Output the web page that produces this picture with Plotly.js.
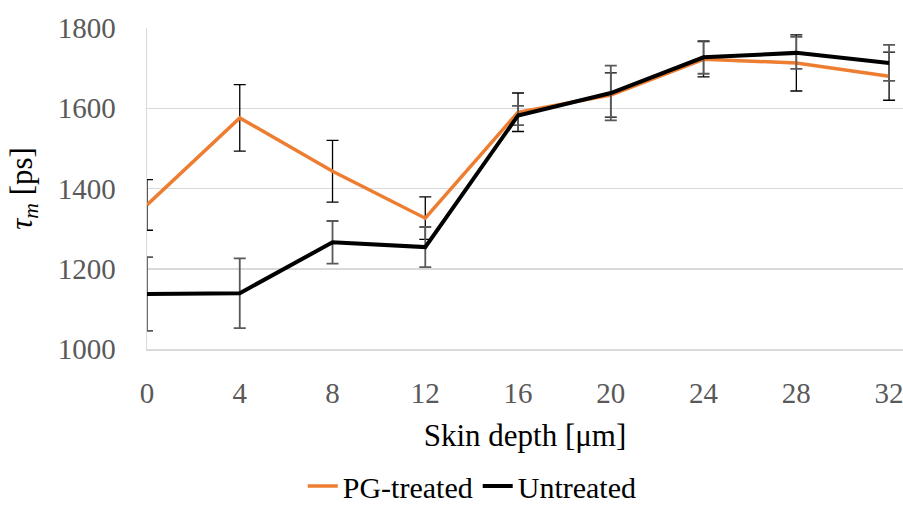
<!DOCTYPE html>
<html><head><meta charset="utf-8">
<script src="https://cdn.plot.ly/plotly-3.0.1.min.js"></script>
<style>html,body{margin:0;padding:0;background:#fff}#c{width:903px;height:512px}</style>
</head><body><div id="c"></div>
<script>
const depth = [0, 4, 8, 12, 16, 20, 24, 28, 32];
const pgTreated = [1359, 1576, 1443, 1326, 1590, 1633, 1722, 1713, 1680];
const pgError = [63, 83, 77, 53, 48, 55, 44, 70, 60];
const untreated = [1137, 1139, 1266, 1254, 1582, 1638, 1727, 1738, 1713];
const untreatedError = [92, 87, 53, 50, 24, 68, 41, 40, 45];
const yTicks = [1000, 1200, 1400, 1600, 1800];

const font = "'Liberation Serif', 'DejaVu Serif', serif";
const traces = [
  {x: depth, y: pgTreated, name: 'PG-treated', type: 'scatter', mode: 'lines',
   line: {color: '#ED7D31', width: 3.5},
   error_y: {type: 'data', array: pgError, visible: true, color: '#000000', thickness: 1.3, width: 6}},
  {x: depth, y: untreated, name: 'Untreated', type: 'scatter', mode: 'lines',
   line: {color: '#000000', width: 4},
   error_y: {type: 'data', array: untreatedError, visible: true, color: '#595959', thickness: 1.8, width: 6}}
];
const layout = {
  width: 903, height: 512,
  margin: {l: 147, r: 0, t: 28, b: 163},
  paper_bgcolor: '#fff', plot_bgcolor: '#fff',
  font: {family: font, color: '#595959'},
  xaxis: {range: [0, 32.6], tickvals: depth, ticktext: depth.map(String),
    showgrid: false, zeroline: false, showline: true, linecolor: '#d9d9d9', linewidth: 1.5,
    ticks: '', tickfont: {size: 29, color: '#595959'}, ticklabelstandoff: 18,
    ticklabeloverflow: 'allow',
    title: {text: 'Skin depth [μm]', font: {size: 31, color: '#000'}, standoff: 16}},
  yaxis: {range: [1000, 1800], tickvals: yTicks, showgrid: true, gridcolor: '#d9d9d9', gridwidth: 1.5,
    zeroline: false, showline: true, linecolor: '#d9d9d9', linewidth: 1.5, ticks: '',
    tickfont: {size: 29, color: '#595959'}, ticklabelstandoff: 24,
    title: {text: '<i>τ</i><sub><i>m</i></sub> [ps]', font: {size: 31, color: '#000'}, standoff: 16}},
  showlegend: true,
  legend: {orientation: 'h', xref: 'container', yref: 'container', x: 0.523, xanchor: 'center',
    y: 0.0, yanchor: 'bottom', font: {size: 30, color: '#000'}, traceorder: 'normal',
    itemwidth: 30, tracegroupgap: 0, borderwidth: 0}
};
Plotly.newPlot('c', traces, layout, {staticPlot: true});
</script></body></html>
